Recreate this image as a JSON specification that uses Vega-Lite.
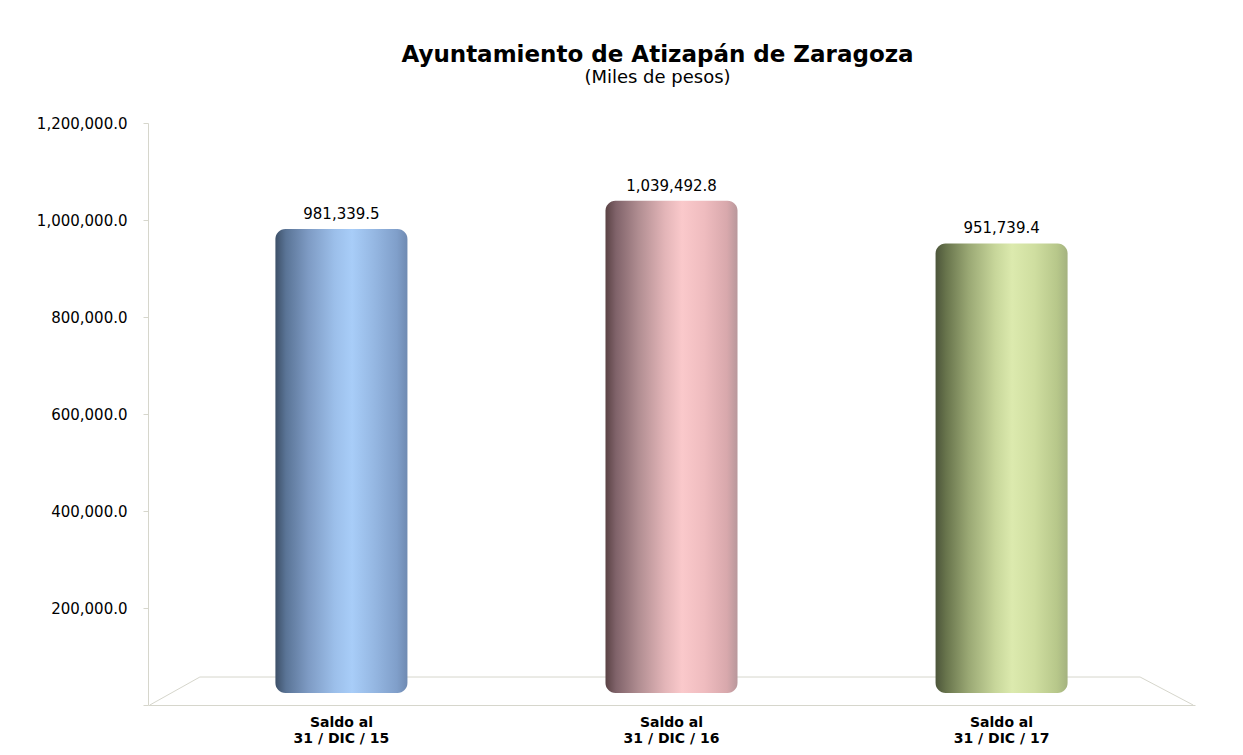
{
  "$schema": "https://vega.github.io/schema/vega-lite/v6.json",
  "width": 1047,
  "height": 582,
  "autosize": {"type": "none"},
  "padding": {"left": 148, "top": 123, "right": 48, "bottom": 50},
  "background": "white",
  "config": {"view": {"stroke": null}, "font": "DejaVu Sans"},
  "title": {
    "text": "Ayuntamiento de Atizapán de Zaragoza",
    "subtitle": "(Miles de pesos)",
    "font": "DejaVu Sans",
    "fontSize": 23,
    "fontWeight": "bold",
    "color": "#000000",
    "subtitleFont": "DejaVu Sans",
    "subtitleFontSize": 18,
    "subtitleColor": "#000000",
    "subtitlePadding": 2,
    "anchor": "middle",
    "dx": -14,
    "offset": 29
  },
  "data": {
    "values": [
      {"periodo": "31 / DIC / 15", "saldo": 981339.5},
      {"periodo": "31 / DIC / 16", "saldo": 1039492.8},
      {"periodo": "31 / DIC / 17", "saldo": 951739.4}
    ]
  },
  "encoding": {
    "x": {
      "field": "periodo",
      "type": "nominal",
      "sort": null,
      "scale": {"domain": ["31 / DIC / 15", "31 / DIC / 16", "31 / DIC / 17"], "paddingInner": 0.6, "paddingOuter": 0.386},
      "axis": {
        "title": null,
        "labelExpr": "['Saldo al', datum.label]",
        "labelAngle": 0,
        "labelFont": "DejaVu Sans",
        "labelFontWeight": "bold",
        "labelFontSize": 14,
        "labelLineHeight": 16,
        "labelColor": "#000000",
        "ticks": false,
        "tickSize": 0,
        "labelPadding": 10,
        "domainColor": "#d6d6cc",
        "grid": false
      }
    },
    "y": {
      "field": "saldo",
      "type": "quantitative",
      "scale": {"domain": [0, 1200000], "nice": false},
      "axis": {
        "values": [0, 200000, 400000, 600000, 800000, 1000000, 1200000],
        "labelExpr": "datum.value === 0 ? '' : format(datum.value, ',.1f')",
        "title": null,
        "grid": false,
        "domainColor": "#d6d6cc",
        "tickColor": "#d6d6cc",
        "tickSize": 5,
        "labelFont": "DejaVu Sans",
        "labelFontSize": 15,
        "labelColor": "#000000",
        "labelPadding": 16
      }
    }
  },
  "layer": [
    {
      "transform": [{"filter": "datum.periodo === '31 / DIC / 15'"}],
      "mark": {"type": "rule", "color": "#d6d6cc", "strokeWidth": 1},
      "encoding": {
        "x": {"datum": "31 / DIC / 15", "bandPosition": -0.572},
        "x2": {"datum": "31 / DIC / 17", "bandPosition": 1.549},
        "y": {"datum": 57700}
      }
    },
    {
      "transform": [{"filter": "datum.periodo === '31 / DIC / 15'"}],
      "mark": {"type": "rule", "color": "#d6d6cc", "strokeWidth": 1},
      "encoding": {
        "x": {"datum": "31 / DIC / 15", "bandPosition": -0.951},
        "x2": {"datum": "31 / DIC / 15", "bandPosition": -0.572},
        "y": {"datum": 0},
        "y2": {"datum": 57700}
      }
    },
    {
      "transform": [{"filter": "datum.periodo === '31 / DIC / 15'"}],
      "mark": {"type": "rule", "color": "#d6d6cc", "strokeWidth": 1},
      "encoding": {
        "x": {"datum": "31 / DIC / 17", "bandPosition": 1.951},
        "x2": {"datum": "31 / DIC / 17", "bandPosition": 1.549},
        "y": {"datum": 0},
        "y2": {"datum": 57700}
      }
    },
    {
      "mark": {"type": "bar", "cornerRadius": 10},
      "encoding": {
        "y2": {"datum": 24700},
        "fill": {
          "condition": [
            {
              "test": "datum.periodo === '31 / DIC / 15'",
              "value": {
                "gradient": "linear", "x1": 0, "x2": 1, "y1": 0, "y2": 0,
                "stops": [
                  {"offset": 0, "color": "#3d5068"},
                  {"offset": 0.08, "color": "#5a7496"},
                  {"offset": 0.25, "color": "#7e9bc4"},
                  {"offset": 0.45, "color": "#9cbfea"},
                  {"offset": 0.58, "color": "#a8cdf8"},
                  {"offset": 0.75, "color": "#95b7e2"},
                  {"offset": 0.92, "color": "#809fca"},
                  {"offset": 1, "color": "#6f8ab2"}
                ]
              }
            },
            {
              "test": "datum.periodo === '31 / DIC / 16'",
              "value": {
                "gradient": "linear", "x1": 0, "x2": 1, "y1": 0, "y2": 0,
                "stops": [
                  {"offset": 0, "color": "#5a4244"},
                  {"offset": 0.08, "color": "#80636a"},
                  {"offset": 0.25, "color": "#b08d91"},
                  {"offset": 0.45, "color": "#e3b5b8"},
                  {"offset": 0.58, "color": "#fac9cb"},
                  {"offset": 0.75, "color": "#efbcbf"},
                  {"offset": 0.92, "color": "#d8a8ac"},
                  {"offset": 1, "color": "#b8979b"}
                ]
              }
            }
          ],
          "value": {
            "gradient": "linear", "x1": 0, "x2": 1, "y1": 0, "y2": 0,
            "stops": [
              {"offset": 0, "color": "#4c553a"},
              {"offset": 0.08, "color": "#68744c"},
              {"offset": 0.25, "color": "#9aa874"},
              {"offset": 0.45, "color": "#c7d69a"},
              {"offset": 0.58, "color": "#dceaae"},
              {"offset": 0.75, "color": "#cfdea0"},
              {"offset": 0.92, "color": "#b7c78a"},
              {"offset": 1, "color": "#a4b27f"}
            ]
          }
        }
      }
    },
    {
      "mark": {"type": "text", "baseline": "alphabetic", "dy": -10, "fontSize": 15, "font": "DejaVu Sans", "color": "#000000"},
      "encoding": {
        "text": {"field": "saldo", "type": "quantitative", "format": ",.1f"}
      }
    }
  ]
}
